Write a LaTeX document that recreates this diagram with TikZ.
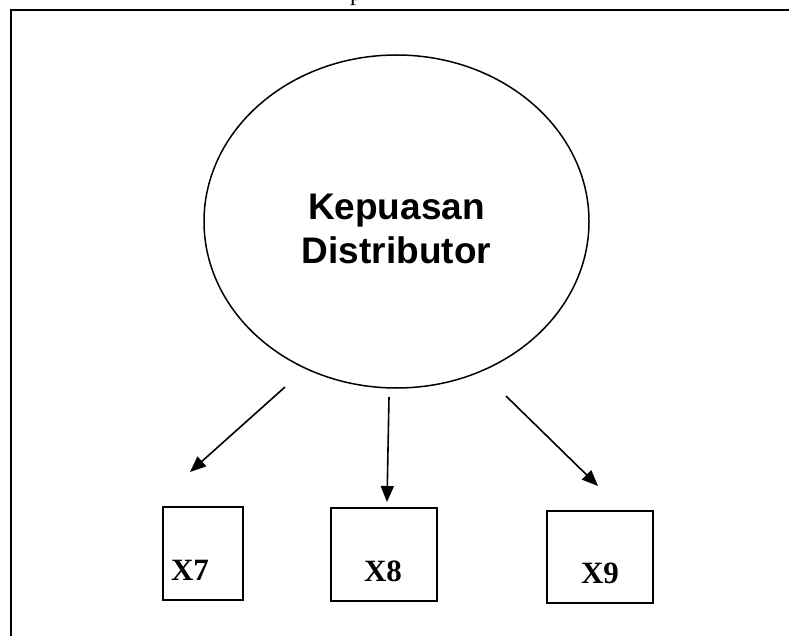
\documentclass[tikz,border=0pt]{standalone}
\usepackage{fontspec}
\setmainfont{Liberation Serif}
\newfontfamily\arialfont{Liberation Sans}
\usetikzlibrary{arrows.meta,shapes.geometric}
\begin{document}
\begin{tikzpicture}[x=1pt,y=-1pt,
  frameline/.style={line width=2.5pt},
  latent/.style={draw,ellipse,line width=1.5pt,inner sep=0pt},
  latenttext/.style={font=\arialfont\bfseries\fontsize{37}{44}\selectfont,align=center,inner sep=0pt},
  indbox/.style={draw,line width=2pt,inner sep=0pt},
  indtext/.style={font=\bfseries\fontsize{31}{36}\selectfont,inner sep=0pt,anchor=base},
  arr/.style={line width=1.6pt,-{Triangle[length=16pt,width=13pt]}}]
\useasboundingbox (0,0) rectangle (789,636);
% partial text at top edge
\node[font=\fontsize{24}{28}\selectfont,anchor=base west,inner sep=0pt] (ptxt) at (350,0.5) {p};
% frame
\draw[frameline] (800,10) -- (11,10) -- (11,650);
% latent variable
\node[latent,minimum width=385pt,minimum height=333pt] (kd) at (396.5,221.5) {};
\node[latenttext] (kdt) at (396.5,229) {Kepuasan\\Distributor};
% indicator boxes
\node[indbox,minimum width=80pt,minimum height=93pt] (b7) at (203,553.5) {};
\node[indbox,minimum width=106pt,minimum height=93pt] (b8) at (384,554.5) {};
\node[indbox,minimum width=106pt,minimum height=92pt] (b9) at (600,557) {};
\node[indtext] (t7) at (190,580) {X7};
\node[indtext] (t8) at (383,581) {X8};
\node[indtext] (t9) at (600,583) {X9};
% arrow endpoints
\coordinate (s7) at (285,387);
\coordinate (e7) at (190,472);
\coordinate (s8) at (389,397);
\coordinate (e8) at (387,502);
\coordinate (s9) at (506,396);
\coordinate (e9) at (598,486);
\draw[arr] (s7) -- (e7);
\draw[arr] (s8) -- (e8);
\draw[arr] (s9) -- (e9);
\end{tikzpicture}
\end{document}
